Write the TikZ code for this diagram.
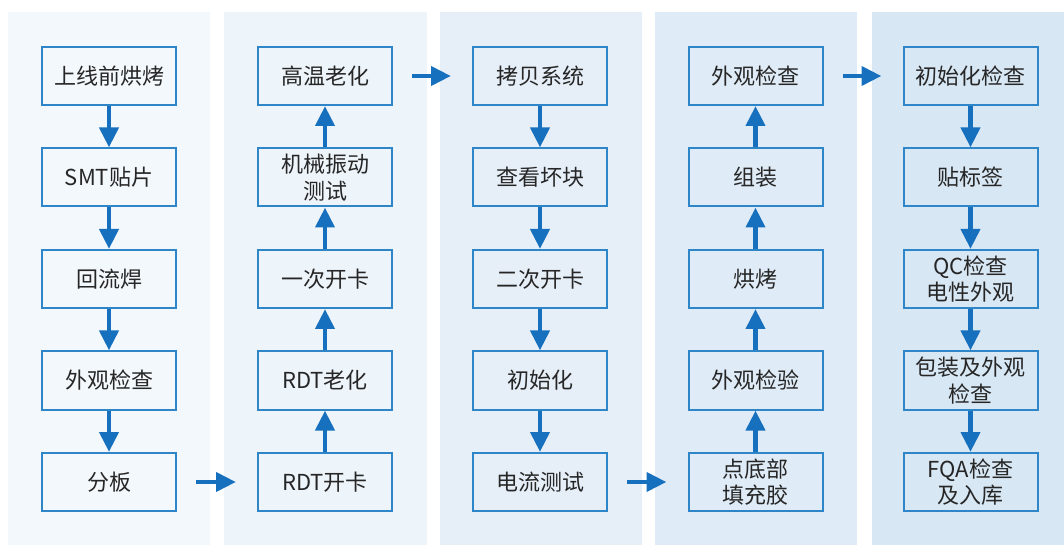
\documentclass[tikz,border=0pt]{standalone}
\usepackage{fontspec}
\setmainfont{Noto Sans CJK SC}
\usepackage{tikz}
\usetikzlibrary{arrows.meta}
\usetikzlibrary{positioning}
\definecolor{panelA}{HTML}{F3F8FC}
\definecolor{panelB}{HTML}{EDF4FA}
\definecolor{panelC}{HTML}{E6EFF8}
\definecolor{panelD}{HTML}{DFEBF6}
\definecolor{panelE}{HTML}{D8E7F4}
\definecolor{boxline}{HTML}{2E86C8}
\definecolor{flowblue}{HTML}{1670BE}
\definecolor{steptext}{HTML}{262626}
\tikzset{stepbox/.style = {draw = boxline, line width = 1.5pt, rectangle,
                           minimum width = 100.5pt, minimum height = 43.5pt,
                           inner sep = 0, align = center, text = steptext,
                           font = \fontsize{16.5}{20}\selectfont}}
\tikzset{flow/.style = {draw = flowblue, line width = 3.6pt,
                        -{Triangle[length = 15pt, width = 14pt]}}}
\tikzset{hop/.style = {flow, shorten <= 14.25pt, shorten >= 15.75pt}}

\begin{document}
\begin{tikzpicture}[x = 0.75pt, y = -0.75pt]
    \useasboundingbox (0, 0) rectangle (1064, 545);
    \fill [panelA] (8, 12) rectangle (210, 545);
    \fill [panelB] (224, 12) rectangle (427, 545);
    \fill [panelC] (440, 12) rectangle (642, 545);
    \fill [panelD] (655, 12) rectangle (857, 545);
    \fill [panelE] (872, 12) rectangle (1064, 545);
    % first column, top to bottom
    \node (prebake) at (109, 76) [stepbox] {上线前烘烤};
    \node (smt) at (109, 177.5) [stepbox] {SMT贴片};
    \node (reflow) at (109, 279) [stepbox] {回流焊};
    \node (lookA) at (109, 380.5) [stepbox] {外观检查};
    \node (split) at (109, 482) [stepbox] {分板};
    % second column, bottom to top
    \node (rdtcard) at (325, 482) [stepbox] {RDT开卡};
    \node (rdtage) at (325, 380.5) [stepbox] {RDT老化};
    \node (cardA) at (325, 279) [stepbox] {一次开卡};
    \node (shake) at (325, 177.5) [stepbox] {机械振动\\测试};
    \node (hotage) at (325, 76) [stepbox] {高温老化};
    % third column
    \node (copy) at (540, 76) [stepbox] {拷贝系统};
    \node (badblk) at (540, 177.5) [stepbox] {查看坏块};
    \node (cardB) at (540, 279) [stepbox] {二次开卡};
    \node (initA) at (540, 380.5) [stepbox] {初始化};
    \node (current) at (540, 482) [stepbox] {电流测试};
    % fourth column, bottom to top
    \node (underfill) at (755.5, 482) [stepbox] {点底部\\填充胶};
    \node (verify) at (755.5, 380.5) [stepbox] {外观检验};
    \node (bake) at (755.5, 279) [stepbox] {烘烤};
    \node (assemble) at (755.5, 177.5) [stepbox] {组装};
    \node (lookB) at (755.5, 76) [stepbox] {外观检查};
    % fifth column
    \node (initB) at (970.5, 76) [stepbox] {初始化检查};
    \node (label) at (970.5, 177.5) [stepbox] {贴标签};
    \node (qc) at (970.5, 279) [stepbox] {QC检查\\电性外观};
    \node (pack) at (970.5, 380.5) [stepbox] {包装及外观\\检查};
    \node (fqa) at (970.5, 482) [stepbox] {FQA检查\\及入库};
    % arrows
    \draw [flow] (prebake) -- (smt);
    \draw [flow] (smt) -- (reflow);
    \draw [flow] (reflow) -- (lookA);
    \draw [flow] (lookA) -- (split);
    \draw [hop] (split) -- (rdtcard);
    \draw [flow] (rdtcard) -- (rdtage);
    \draw [flow] (rdtage) -- (cardA);
    \draw [flow] (cardA) -- (shake);
    \draw [flow] (shake) -- (hotage);
    \draw [hop] (hotage) -- (copy);
    \draw [flow] (copy) -- (badblk);
    \draw [flow] (badblk) -- (cardB);
    \draw [flow] (cardB) -- (initA);
    \draw [flow] (initA) -- (current);
    \draw [hop] (current) -- (underfill);
    \draw [flow] (underfill) -- (verify);
    \draw [flow] (verify) -- (bake);
    \draw [flow] (bake) -- (assemble);
    \draw [flow] (assemble) -- (lookB);
    \draw [hop] (lookB) -- (initB);
    \draw [flow] (initB) -- (label);
    \draw [flow] (label) -- (qc);
    \draw [flow] (qc) -- (pack);
    \draw [flow] (pack) -- (fqa);
\end{tikzpicture}
\end{document}
